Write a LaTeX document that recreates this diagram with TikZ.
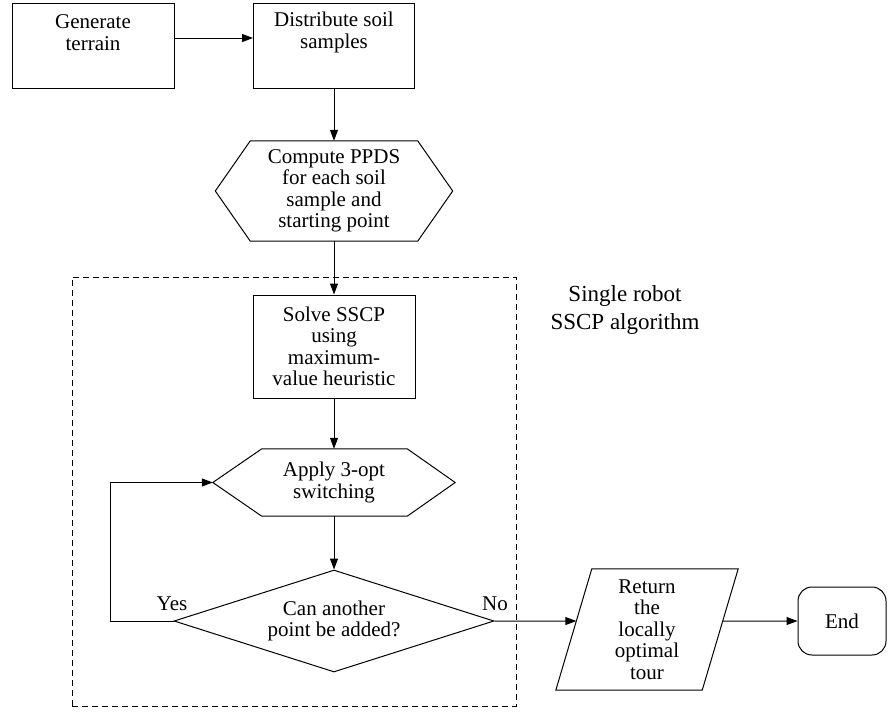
\documentclass[tikz,border=0pt]{standalone}
\usepackage{fontspec}
\setmainfont{Liberation Serif}
\newfontfamily\diagfont{Liberation Serif}
\usetikzlibrary{shapes.geometric,arrows.meta,calc}
\begin{document}
\begin{tikzpicture}[x=1pt,y=-1pt,
  line/.style={draw=black, line width=1pt},
  arr/.style={line, -{Triangle[length=11pt,width=8pt]}},
  txt/.style={font=\diagfont\fontsize{21}{21.5}\selectfont, align=center, inner sep=0pt},
  lbl/.style={font=\diagfont\fontsize{23}{28}\selectfont, align=center, inner sep=0pt},
  box/.style={line, rectangle, inner sep=0pt},
  grpbox/.style={draw=black, line width=1pt, dash pattern=on 6pt off 4pt, rectangle, inner sep=0pt}]
\useasboundingbox (0,0) rectangle (890,713);

% top boxes
\node[box, minimum width=162pt, minimum height=85pt] (gen) at (93,45.5) {};
\node[txt] (gentxt) at ($(gen.north)+(0,30)$) {Generate\\terrain};
\node[box, minimum width=161pt, minimum height=85pt] (dist) at (334,45.5) {};
\node[txt] (disttxt) at ($(dist.north)+(0,30)$) {Distribute soil\\samples};

% PPDS hexagon
\node[txt, minimum width=237pt, minimum height=100pt] (ppds) at (334,191) {Compute PPDS\\for each soil\\sample and\\starting point};
\draw[line] ([xshift=35pt]ppds.north west) -- ([xshift=-35pt]ppds.north east) -- (ppds.east)
  -- ([xshift=-35pt]ppds.south east) -- ([xshift=35pt]ppds.south west) -- (ppds.west) -- cycle;

% group
\node[grpbox, minimum width=444pt, minimum height=429pt] (grp) at (294,491.5) {};
\node[lbl] (grplbl) at (625,310) {Single robot\\SSCP algorithm};

% solve
\node[box, txt, minimum width=162pt, minimum height=103pt] (solve) at (334,346.5) {Solve SSCP\\using\\maximum-\\value heuristic};

% apply hexagon
\node[txt, minimum width=242pt, minimum height=67pt] (apply) at (334,482.5) {Apply 3-opt\\switching};
\draw[line] ([xshift=49pt]apply.north west) -- ([xshift=-48pt]apply.north east) -- (apply.east)
  -- ([xshift=-48pt]apply.south east) -- ([xshift=49pt]apply.south west) -- (apply.west) -- cycle;

% decision
\node[diamond, aspect=3.14, line, txt, minimum width=320pt, minimum height=102pt] (dia) at (334,621) {Can another\\point be added?};
\node[txt] (yes) at (172,604) {Yes};
\node[txt] (no) at (495,604) {No};

% return parallelogram
\node[txt, minimum width=182pt, minimum height=121pt] (ret) at (647,629.5) {Return\\the\\locally\\optimal\\tour};
\draw[line] ([xshift=36pt]ret.north west) -- (ret.north east) -- ([xshift=-36pt]ret.south east) -- (ret.south west) -- cycle;
\coordinate (retin) at ($([xshift=36pt]ret.north west)!0.43!(ret.south west)$);
\coordinate (retout) at ($(ret.north east)!0.43!([xshift=-36pt]ret.south east)$);

% end
\node[box, txt, rounded corners=14pt, minimum width=88pt, minimum height=68pt] (end) at (842,621) {End};

% connectors
\draw[arr] ([yshift=7.5pt]gen.east) -- ([yshift=7.5pt]dist.west);
\draw[arr] (dist.south) -- (ppds.north);
\draw[arr] (ppds.south) -- (solve.north);
\draw[arr] (solve.south) -- (apply.north);
\draw[arr] (apply.south) -- (dia.north);
\draw[arr] (dia.west) -- ++(-63,0) |- (apply.west);
\draw[arr] (dia.east) -- (retin);
\draw[arr] (retout) -- (end.west);
\end{tikzpicture}
\end{document}
